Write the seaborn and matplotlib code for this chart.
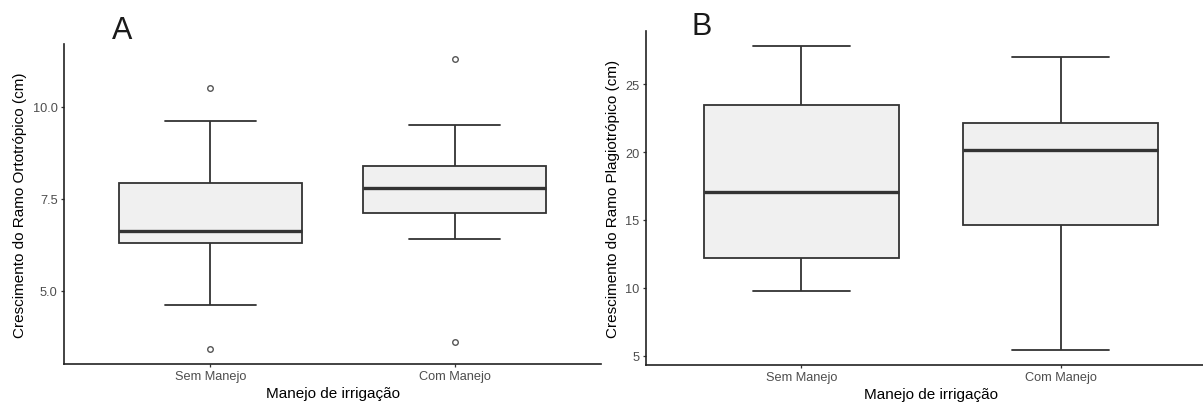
import numpy as np
import pandas as pd
import matplotlib
matplotlib.use("Agg")
import matplotlib.pyplot as plt
import seaborn as sns

# ---------------- data ----------------
grupos = ["Sem Manejo", "Com Manejo"]

# Panel A - Ramo Ortotrópico (cm)
A_out_lo = [3.40, 3.61]
A_whislo = [4.62, 6.41]
A_q1 = [6.30, 7.10]
A_med = [6.61, 7.80]
A_q3 = [7.93, 8.40]
A_whishi = [9.61, 9.51]
A_out_hi = [10.51, 11.31]

# Panel B - Ramo Plagiotrópico (cm)
B_whislo = [9.80, 5.44]
B_q1 = [12.21, 14.66]
B_med = [17.06, 20.15]
B_q3 = [23.43, 22.16]
B_whishi = [27.79, 27.01]

A_ticks = [5.0, 7.5, 10.0]
B_ticks = [5, 10, 15, 20, 25]


def build_table(lo_out, wlo, q1, med, q3, whi, hi_out):
    """Observation table whose quartiles / whiskers reproduce the stats."""
    rows = []
    for i, g in enumerate(grupos):
        vals = []
        if lo_out is not None:
            vals.append(lo_out[i])
        vals += [wlo[i], q1[i], q1[i], med[i], q3[i], q3[i], whi[i]]
        if hi_out is not None:
            vals.append(hi_out[i])
        rows += [(g, v) for v in vals]
    return pd.DataFrame(rows, columns=["grupo", "valor"])


dfA = build_table(A_out_lo, A_whislo, A_q1, A_med, A_q3, A_whishi, A_out_hi)
dfB = build_table(None, B_whislo, B_q1, B_med, B_q3, B_whishi, None)

# ---------------- style ----------------
sns.set_style("white")
plt.rcParams["font.family"] = ["Liberation Sans", "DejaVu Sans"]

W, H = 1203, 406
fig = plt.figure(figsize=(W / 100, H / 100), dpi=100)

axA = fig.add_axes([64 / W, (H - 365) / H, 537 / W, 320 / H])
axB = fig.add_axes([646 / W, (H - 366) / H, 570 / W, 334 / H])

box_kw = dict(
    x="grupo", y="valor", order=grupos, width=0.75, color="#F0F0F0",
    saturation=1, linecolor="#333333", linewidth=1.3, fliersize=4.0,
    flierprops=dict(marker="o", markerfacecolor="none",
                    markeredgecolor="#555555", markeredgewidth=1.0),
    medianprops=dict(linewidth=2.4, color="#333333"),
)

sns.boxplot(data=dfA, ax=axA, **box_kw)
sns.boxplot(data=dfB, ax=axB, **box_kw)


def style_axis(ax, df, ticks, fmt, ylabel):
    lo, hi = df["valor"].min(), df["valor"].max()
    pad = 0.05 * (hi - lo)
    ax.set_ylim(lo - pad, hi + pad)
    ax.set_xlim(-0.6, 1.6)
    ax.set_yticks(ticks)
    ax.set_yticklabels([fmt.format(t) for t in ticks])
    for s in ["top", "right"]:
        ax.spines[s].set_visible(False)
    for s in ["left", "bottom"]:
        ax.spines[s].set_color("#222222")
        ax.spines[s].set_linewidth(1.2)
    ax.tick_params(axis="both", which="both", length=2.5, width=0.9,
                   color="#333333", labelcolor="#4D4D4D", labelsize=9.2,
                   pad=2, left=True, bottom=True)
    ax.set_xlabel("Manejo de irrigação", fontsize=11, color="black", labelpad=3)
    ax.set_ylabel(ylabel, fontsize=11, color="black", labelpad=4)
    ax.grid(False)


style_axis(axA, dfA, A_ticks, "{:.1f}", "Crescimento do Ramo Ortotrópico (cm)")
style_axis(axB, dfB, B_ticks, "{:d}", "Crescimento do Ramo Plagiotrópico (cm)")

fig.text(112 / W, 1 - 39 / H, "A", fontsize=22, color="#1a1a1a",
         ha="left", va="baseline")
fig.text(691 / W, 1 - 35 / H, "B", fontsize=22, color="#1a1a1a",
         ha="left", va="baseline")

fig.savefig("out.png", dpi=100, facecolor="white")
